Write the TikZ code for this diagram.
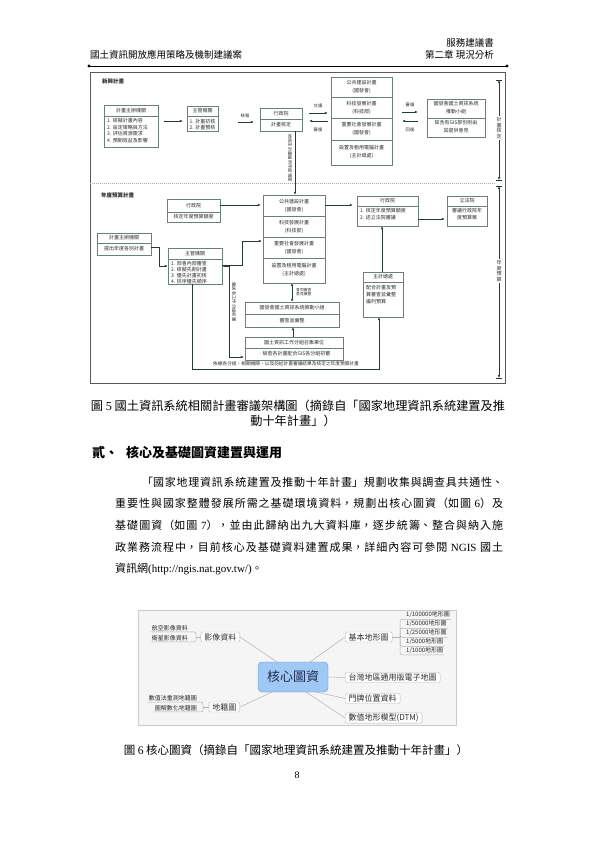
\documentclass[tikz,border=0pt]{standalone}
\usepackage{fontspec}
\setmainfont{Noto Sans CJK TC}
\newfontfamily\lat{Liberation Serif}
\usetikzlibrary{arrows.meta,calc,fit}
\XeTeXlinebreaklocale "zh"
\XeTeXlinebreakskip=0pt plus 1pt
\definecolor{bc}{RGB}{110,128,118}
\definecolor{ac}{RGB}{35,60,45}
\definecolor{txc}{RGB}{45,45,45}
\definecolor{corefill}{RGB}{160,200,245}
\definecolor{coredraw}{RGB}{95,150,215}
\definecolor{coretext}{RGB}{30,45,80}
\newcommand\mkbox[6]{\node[box,fit={(#2,#3) (#4,#5)}] (#1) {};\draw[divl] (#2,#6) -- (#4,#6);}
\begin{document}
\begin{tikzpicture}[x=1pt,y=-1pt,
 box/.style={draw=bc,line width=0.45pt,fill=white,inner sep=0pt},
 divl/.style={draw=bc,line width=0.45pt},
 tx/.style={font=\fontsize{5}{6}\selectfont,inner sep=0pt,text=txc},
 txs/.style={font=\fontsize{4.3}{5}\selectfont,inner sep=0pt,text=txc},
 arr/.style={draw=ac,line width=0.45pt,-{Latex[length=2.8pt,width=2.2pt]}},
 darr/.style={draw=ac,line width=0.45pt,{Latex[length=2.8pt,width=2.2pt]}-{Latex[length=2.8pt,width=2.2pt]}},
 hd/.style={font=\fontsize{9.5}{11}\selectfont,inner sep=0pt},
 captxt/.style={font=\fontsize{12.2}{14}\selectfont,inner sep=0pt},
 core/.style={draw=coredraw,fill=corefill,rounded corners=4pt,minimum width=70pt,minimum height=30pt,inner sep=0pt,font=\fontsize{13}{15}\selectfont,text=coretext},
 br/.style={draw=gray!55,fill=white,rounded corners=2pt,inner xsep=3.5pt,inner ysep=1pt,minimum height=10pt,font=\fontsize{8}{9}\selectfont,text=txc},
 lf/.style={inner xsep=1pt,inner ysep=1pt,font=\fontsize{6}{7}\selectfont,text=txc},
 brl/.style={draw=gray!60,line width=0.5pt}]
\useasboundingbox (0,0) rectangle (595,842);
\fill[white] (0,0) rectangle (595,842);

% ---------- header ----------
\node[hd,anchor=east] (hd1) at (494,43) {服務建議書};
\node[hd,anchor=west] (hd2) at (90,55) {國土資訊開放應用策略及機制建議案};
\node[hd,anchor=east] (hd3) at (494,55) {第二章\ 現況分析};
\draw[line width=0.9pt] (89,66) -- (507,66);
\fill (89,66) circle (1.7pt);
\fill (507,66) circle (1.7pt);

% ---------- figure 5 ----------
\node[draw=black!65,line width=0.8pt,inner sep=0pt,fit={(90,72) (505,383)}] (fig5) {};
\draw[gray!70,dash pattern=on 1pt off 1pt,line width=0.4pt] (90,183) -- (496,183);
\node[tx,anchor=west,font=\fontsize{5.5}{6}\selectfont\bfseries] (t1) at (102,81) {新興計畫};
\node[tx,anchor=west,font=\fontsize{5.5}{6}\selectfont\bfseries] (t2) at (101,195) {年度預算計畫};

% top boxes
\mkbox{A}{104}{105}{158}{147}{116}
\node[tx] (Ah) at (131,110.5) {計畫主辦機關};
\node[tx,anchor=west] (A1) at (107,121) {1. 研擬計畫內容};
\node[tx,anchor=west] (A2) at (107,127.5) {2. 設定策略與方法};
\node[tx,anchor=west] (A3) at (107,134) {3. 評估資源需求};
\node[tx,anchor=west] (A4) at (107,140.5) {4. 預期效益及影響};

\mkbox{B}{187}{106}{218}{131}{116}
\node[tx] (Bh) at (202.5,111) {主管機關};
\node[tx,anchor=west] (B1) at (189.5,121.5) {1. 計畫初核};
\node[tx,anchor=west] (B2) at (189.5,128) {2. 計畫預核};

\mkbox{C}{260}{108}{302}{131}{119}
\node[tx] (Ch) at (281,113.5) {行政院};
\node[tx] (C1) at (281,125) {計畫核定};

\mkbox{D}{331}{77}{392}{165}{97}
\draw[divl] (331,118) -- (392,118);
\draw[divl] (331,140) -- (392,140);
\node[tx] (D1) at (361.5,83) {公共建設計畫};
\node[tx] (D1b) at (361.5,91) {(國發會)};
\node[tx] (D2t) at (361.5,104) {科技發展計畫};
\node[tx] (D2b) at (361.5,112) {(科技部)};
\node[tx] (D3) at (361.5,125) {重要社會發展計畫};
\node[tx] (D3b) at (361.5,133) {(國發會)};
\node[tx] (D4) at (361.5,148) {設置及租用電腦計畫};
\node[tx] (D4b) at (361.5,156) {(主計總處)};

\mkbox{E}{427}{99}{485}{137}{118}
\node[tx] (E1) at (456,104) {國發會國土資訊系統};
\node[tx] (E2) at (456,112) {推動小組};
\node[tx] (E3) at (456,123) {如含有GIS部份則由};
\node[tx] (E4) at (456,131) {其提供意見};

\draw[arr] ($(A.east|-0,121)+(6,0)$) -- ($(B.west|-0,121)+(-4,0)$);
\draw[arr] ($(B.east|-0,122)+(20,0)$) -- ($(C.west|-0,122)+(-6,0)$);
\node[txs] (l1) at (245,116) {核報};
\draw[arr] ($(C.east|-0,113)+(7,0)$) -- ($(D.west|-0,113)+(-3,0)$);
\node[txs] (l2) at (318,106) {交議};
\draw[arr] ($(D.west|-0,121)+(-3,0)$) -- ($(C.east|-0,121)+(7,0)$);
\node[txs] (l3) at (318,130) {審復};
\draw[arr] ($(D.east|-0,112)+(10,0)$) -- ($(E.west|-0,112)+(-9,0)$);
\node[txs] (l4) at (410,105) {審議};
\draw[arr] ($(E.west|-0,121)+(-9,0)$) -- ($(D.east|-0,121)+(10,0)$);
\node[txs] (l5) at (410,130) {回復};

% dimension 1
\coordinate (dm1t) at (499,80);
\coordinate (dm1b) at (499,180);
\draw[ac,line width=0.45pt] ($(dm1t)+(-3,0)$) -- ($(dm1t)+(3,0)$);
\draw[ac,line width=0.45pt] ($(dm1b)+(-3,0)$) -- ($(dm1b)+(3,0)$);
\draw[darr] (dm1t) -- (dm1b);
\node[tx,fill=white,inner sep=0.8pt,align=center,font=\fontsize{5}{5.6}\selectfont] (dm1l) at (499,128) {計\\畫\\核\\定};

% lower boxes
\mkbox{F}{167}{199}{220}{222}{212}
\node[tx] (Fh) at (193.5,205.5) {行政院};
\node[tx] (F1) at (193.5,217) {核定年度預算額度};

\mkbox{G}{97}{233}{151}{255}{243}
\node[tx] (Gh) at (124,238) {計畫主辦機關};
\node[tx] (G1) at (124,249) {提出年度各別計畫};

\mkbox{H}{168}{248}{222}{284}{259}
\node[tx] (Hh) at (195,253.5) {主管機關};
\node[tx,anchor=west] (H1) at (171,264) {1. 部會內部審查};
\node[tx,anchor=west] (H2) at (171,270) {2. 研擬先期計畫};
\node[tx,anchor=west] (H3) at (171,276) {3. 優先計畫初核};
\node[tx,anchor=west] (H4) at (171,281.5) {4. 排序優先順序};

\mkbox{DD}{263}{195}{325}{283}{216}
\draw[divl] (263,237) -- (325,237);
\draw[divl] (263,258) -- (325,258);
\node[tx] (DD1) at (294,202) {公共建設計畫};
\node[tx] (DD1b) at (294,210) {(國發會)};
\node[tx] (DD2) at (294,223) {科技發展計畫};
\node[tx] (DD2b) at (294,231) {(科技部)};
\node[tx] (DD3) at (294,244) {重要社會發展計畫};
\node[tx] (DD3b) at (294,252) {(國發會)};
\node[tx] (DD4) at (294,266) {設置及租用電腦計畫};
\node[tx] (DD4b) at (294,274) {(主計總處)};

\mkbox{I}{357}{196}{418}{226}{206}
\node[tx] (Ih) at (387.5,201) {行政院};
\node[tx,anchor=west] (I1) at (360,211) {1. 核定年度預算額度};
\node[tx,anchor=west] (I2) at (360,218) {2. 送立法院審議};

\mkbox{J}{447}{196}{487}{226}{206}
\node[tx] (Jh) at (467,201) {立法院};
\node[tx] (J1) at (467,211) {審議行政院年};
\node[tx] (J2) at (467,218) {度預算案};

\mkbox{K}{363}{272}{403}{317}{282}
\node[tx] (Kh) at (383,277) {主計總處};
\node[tx,anchor=west] (K1) at (366,288) {配合計畫及預};
\node[tx,anchor=west] (K2) at (366,295) {算審查並彙整};
\node[tx,anchor=west] (K3) at (366,302) {編列預算};

\mkbox{L}{245}{302}{339}{327}{314}
\node[tx] (Lh) at (292,308) {國發會國土資訊系統推動小組};
\node[tx] (L1) at (292,320.5) {審查並彙整};

\mkbox{M}{245}{337}{343}{360}{348}
\node[tx] (Mh) at (294,342.5) {國土資訊工作分組召集單位};
\node[tx] (M1) at (294,354) {．檢查各計畫配合GIS各分組初審};

% lower arrows
\draw[arr] (C.south-|295,0) -- (DD.north-|295,0);
\node[txs,rotate=-90] (v1) at (290,158) {依核定計畫編列年度預算};
\draw[arr] (F.east|-0,205) -- ($(DD.west|-0,205)+(-2,0)$);
\draw[arr] (G.east|-0,247) -- (159,247) -- (159,266) -- (H.west|-0,266);
\draw[arr] (H.east|-0,265) -- (242,265) -- (242,241) -- ($(DD.west|-0,241)+(-1,0)$);
\draw[darr] (H.east|-0,266) -- (229,266) -- (229,357) -- ($(M.west|-0,357)+(-1,0)$);
\node[txs,rotate=-90] (v2) at (234,302) {彙送各工作分組初審};
\draw[darr] (DD.south-|292,0) -- (L.north-|292,0);
\node[txs,anchor=west,align=left,font=\fontsize{3.8}{4.4}\selectfont] (v3) at (296,292) {會同審查\\意見彙整};
\draw[arr] (M.north-|293,0) -- (L.south-|293,0);
\draw[arr] (H.south-|192,0) -- (192,369) -- (379,369) -- (K.south-|379,0);
\node[txs,font=\fontsize{4.7}{5}\selectfont] (v4) at (286,364) {依據各分組、相關機關、以及前述計畫審議結果及核定之年度預算計畫};
\draw[arr] (K.north-|382,0) -- (I.south-|382,0);
\draw[arr] (DD.east|-0,205) -- ($(I.west|-0,205)+(-4,0)$);
\draw[arr] (I.east|-0,219) -- ($(J.west|-0,219)+(-2,0)$);

% dimension 2
\coordinate (dm2t) at (499,186);
\coordinate (dm2b) at (499,378);
\draw[ac,line width=0.45pt] ($(dm2t)+(-3,0)$) -- ($(dm2t)+(3,0)$);
\draw[ac,line width=0.45pt] ($(dm2b)+(-3,0)$) -- ($(dm2b)+(3,0)$);
\draw[darr] (dm2t) -- (dm2b);
\node[tx,fill=white,inner sep=0.8pt,align=center,font=\fontsize{5}{5.6}\selectfont] (dm2l) at (499,271) {年\\度\\預\\算};

% ---------- caption 5, heading, paragraph ----------
\node[captxt] (cap1a) at (298,406) {圖 {\lat 5} 國土資訊系統相關計畫審議架構圖（摘錄自「國家地理資訊系統建置及推};
\node[captxt] (cap1b) at (293,421) {動十年計畫」）};
\node[anchor=west,inner sep=0pt,font=\fontsize{13}{15}\selectfont\bfseries] (h1) at (92,453) {貳、\hspace{8pt}核心及基礎圖資建置與運用};
\node[anchor=north west,inner sep=0pt,text width=388pt,align=justify,font=\fontsize{11}{21.7}\selectfont] (para) at (115,476.5)
 {\hspace*{27pt}「國家地理資訊系統建置及推動十年計畫」規劃收集與調查具共通性、\linebreak
 重要性與國家整體發展所需之基礎環境資料，規劃出核心圖資（如圖 {\lat 6}）及\linebreak
 基礎圖資（如圖 {\lat 7}），並由此歸納出九大資料庫，逐步統籌、整合與納入施\linebreak
 政業務流程中，目前核心及基礎資料建置成果，詳細內容可參閱 {\lat NGIS} 國土\linebreak
 資訊網{\lat (http://ngis.nat.gov.tw/)}。};

% ---------- figure 6 ----------
\node[draw=gray!40,fill=gray!8,inner sep=0pt,fit={(138,610) (456,725)}] (fig6) {};
\node[br,anchor=east] (img) at (240,637) {影像資料};
\node[br,anchor=east] (cad) at (240,707) {地籍圖};
\node[br,anchor=west] (topo) at (345,637) {基本地形圖};
\node[br,anchor=west] (emap) at (345,677.5) {台灣地區通用版電子地圖};
\node[br,anchor=west] (addr) at (345,698.5) {門牌位置資料};
\node[br,anchor=west] (dtm) at (345,718) {數值地形模型(DTM)};
\coordinate (core0) at (293,677);
\draw[brl] ($(core0)+(-16,-15)$) -- (img.east);
\draw[brl] ($(core0)+(-21,15)$) -- (cad.east);
\draw[brl] ($(core0)+(17,-15)$) -- (topo.west);
\draw[brl] ($(core0)+(35,0)$) -- (emap.west);
\draw[brl] ($(core0)+(23,15)$) -- (addr.west);
\draw[brl] ($(core0)+(13,15)$) -- (dtm.west);
\node[core] (core) at (core0) {核心圖資};

\node[lf,anchor=east] (la1) at (189,628) {航空影像資料};
\node[lf,anchor=east] (la2) at (189,638) {衛星影像資料};
\coordinate (ja) at (196,637);
\draw[brl] (img.west) -- (ja);
\draw[brl,rounded corners=2pt] (la1.south west) -- (la1.south east) -| (ja) |- (la2.south east) -- (la2.south west);

\node[lf,anchor=east] (lc1) at (198,698) {數值法重測地籍圖};
\node[lf,anchor=east] (lc2) at (198,708) {圖解數化地籍圖};
\coordinate (jc) at (203,707);
\draw[brl] (cad.west) -- (jc);
\draw[brl,rounded corners=2pt] (lc1.south west) -- (lc1.south east) -| (jc) |- (lc2.south east) -- (lc2.south west);

\node[lf,anchor=west] (lt1) at (405,615) {1/100000地形圖};
\node[lf,anchor=west] (lt2) at (405,624) {1/50000地形圖};
\node[lf,anchor=west] (lt3) at (405,633) {1/25000地形圖};
\node[lf,anchor=west] (lt4) at (405,642) {1/5000地形圖};
\node[lf,anchor=west] (lt5) at (405,650.5) {1/1000地形圖};
\coordinate (jt) at (400,637);
\draw[brl] (topo.east) -- (jt);
\foreach \n in {lt1,lt2,lt3,lt4,lt5}{
 \draw[brl,rounded corners=2pt] (jt) |- (\n.south west) -- (\n.south east);
}

\node[captxt,font=\fontsize{11.5}{13}\selectfont] (cap2) at (296,750) {圖 {\lat 6} 核心圖資（摘錄自「國家地理資訊系統建置及推動十年計畫」）};
\node[inner sep=0pt,font=\fontsize{10}{12}\selectfont\lat] (pg) at (297,775) {8};
\end{tikzpicture}
\end{document}
